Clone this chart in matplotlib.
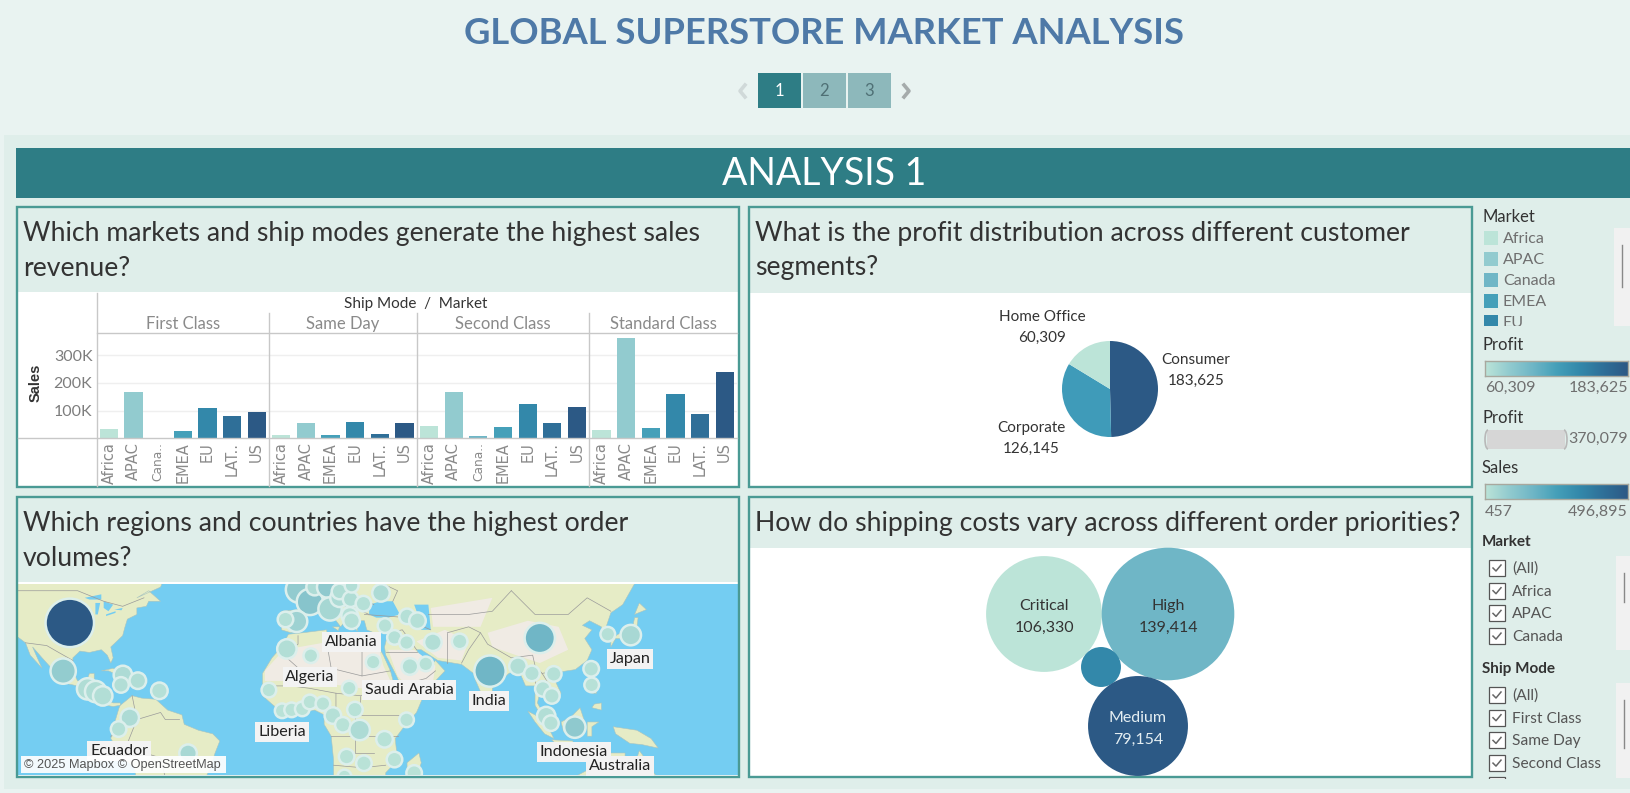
import numpy as np
import matplotlib
matplotlib.use("Agg")
import matplotlib.pyplot as plt
from matplotlib.colors import LinearSegmentedColormap
from matplotlib.patches import Rectangle, Polygon, Arc

plt.rcParams['font.family'] = ['Lato', 'DejaVu Sans']

W, H = 1630, 793

# bar chart data
ship_modes = ["First Class", "Same Day", "Second Class", "Standard Class"]
bar_markets = [
    ["Africa", "APAC", "Canada", "EMEA", "EU", "LATAM", "US"],
    ["Africa", "APAC", "EMEA", "EU", "LATAM", "US"],
    ["Africa", "APAC", "Canada", "EMEA", "EU", "LATAM", "US"],
    ["Africa", "APAC", "EMEA", "EU", "LATAM", "US"],
]
bar_labels = [
    ["Africa", "APAC", "Cana..", "EMEA", "EU", "LAT..", "US"],
    ["Africa", "APAC", "EMEA", "EU", "LAT..", "US"],
    ["Africa", "APAC", "Cana..", "EMEA", "EU", "LAT..", "US"],
    ["Africa", "APAC", "EMEA", "EU", "LAT..", "US"],
]
first_class = [34000, 167000, 1000, 26000, 110000, 81000, 95000]
same_day = [12000, 55000, 12000, 59000, 16000, 55000]
second_class = [45000, 167000, 8000, 41000, 124000, 55000, 113000]
standard_class = [30000, 362000, 37000, 160000, 88000, 240000]
bar_sales = [first_class, same_day, second_class, standard_class]

market_colors = {"Africa": "#bce4d8", "APAC": "#92cbcf", "Canada": "#6fb6c6", "EMEA": "#45a0b9",
                 "EU": "#3388aa", "LATAM": "#2f6f98", "US": "#2c5985"}

# pie data
segments = ["Consumer", "Corporate", "Home Office"]
segment_profit = [183625, 126145, 60309]
segment_colors = ["#2c5985", "#3f9bb9", "#bce4d8"]

# shipping cost bubbles
priorities = ["Critical", "High", "Low", "Medium"]
shipping_cost = [106330, 139414, 12660, 79154]
priority_colors = ["#bce4d8", "#6fb6c6", "#3388aa", "#2c5985"]

# map bubbles, lon / lat / orders / sales
map_lon = [-98.3, -101.1, -90.8, -87.4, -84.4, -75.9, -76.7, -69.6, -60.5, -73, -77.7, -48.4,
           -1.6, 3, 5, 10.5, 11.5, 15.5, 15.5, 20.2, 20.6, 33, 25.6, 19.8, 20.6, -2.6, -7.3,
           44, 48.4, 34.7, 38.7, 43.8, 54.9, 66.2, -6.7, 3.4, 29.7, 45.2, 51.9, -14.3, 19.6,
           -8.7, -4.7, -0.2, 3, 8.5, 12.7, 16.9, 22, 24, 43.8, 34.5, 18.5, 25.8, 38.7, 47, 17.6,
           79, 100, 90.8, 96.7, 105.9, 101.3, 105.1, 121.7, 121.9, 128.7, 138.4, 102.7, 104.7, 114.8, 134.2]
map_lat = [39.3, 21.9, 14.8, 13.7, 11.9, 20.4, 16.4, 18.1, 14, 2.8, -2, -12.1,
           49.3, 45.8, 50, 50, 43.7, 47, 48.8, 46.6, 50.4, 48.4, 45.3, 41.7, 40, 39.8, 40.4,
           41.4, 40, 38.4, 34.4, 32.6, 32.7, 33, 30.3, 27.8, 25.4, 23.7, 24.7, 14.3, 15.1,
           5.7, 6.1, 6.5, 9.4, 8.7, 3.7, -0.2, 6.2, -2.4, 1.9, -6.3, -13.5, -16.2, -14.7, -20.1, -21.5,
           21.9, 34.2, 23.8, 21, 20.8, 14.8, 11.9, 22.8, 16.4, 35.5, 35.2, 3.5, 0.5, -1.2, -22.8]
map_orders = [4990, 1300, 900, 900, 730, 650, 440, 510, 510, 650, 440, 580,
              1410, 1410, 510, 900, 1090, 650, 440, 440, 330, 580, 440, 510, 510, 900, 440,
              440, 510, 380, 380, 380, 580, 440, 730, 380, 380, 510, 380, 380, 380,
              380, 380, 380, 380, 380, 510, 440, 440, 820, 380, 510, 440, 440, 440, 440, 330,
              2030, 1900, 580, 440, 440, 440, 440, 440, 380, 380, 820, 650, 440, 900, 900]
map_sales = [496895, 80000, 25000, 25000, 20000, 30000, 20000, 25000, 15000, 30000, 15000, 40000,
             85000, 110000, 30000, 90000, 45000, 30000, 25000, 25000, 20000, 30000, 15000, 15000, 15000, 60000, 15000,
             15000, 15000, 12000, 15000, 12000, 20000, 12000, 20000, 12000, 12000, 15000, 12000, 10000, 10000,
             8000, 8000, 8000, 8000, 8000, 15000, 10000, 10000, 30000, 8000, 10000, 8000, 8000, 8000, 8000, 8000,
             165000, 165000, 20000, 15000, 15000, 15000, 15000, 15000, 12000, 15000, 40000, 20000, 15000, 90000, 60000]

map_labels = ["Albania", "Algeria", "Saudi Arabia", "India", "Japan", "Liberia", "Ecuador", "Indonesia", "Australia"]
map_label_x = [351.5, 310, 409, 489, 630, 282, 119, 574, 620]
map_label_y = [640, 675, 688, 699, 657, 730, 749, 750, 764]

# right hand legends
legend_markets = ["Africa", "APAC", "Canada", "EMEA", "EU"]
filter_markets = ["(All)", "Africa", "APAC", "Canada"]
filter_modes = ["(All)", "First Class", "Same Day", "Second Class"]

# rough outlines for the basemap
land = [
    [(-130, 56), (-125, 48), (-124, 42), (-121, 35), (-117, 32.5), (-115, 28), (-110, 23), (-112, 27), (-114, 31), (-110, 27),
     (-106, 23), (-105, 20), (-100, 17), (-95, 16), (-92, 14.5), (-88, 13), (-85, 11), (-83, 8), (-80, 7.5), (-77, 8), (-77, 9),
     (-80, 9), (-83, 10), (-84, 15), (-88, 16), (-88, 21), (-90, 21), (-91, 18.5), (-95, 18), (-97, 22), (-97, 27), (-94, 29.5),
     (-90, 29), (-85, 30), (-82.5, 28), (-81, 25), (-80, 27), (-81, 31), (-76, 35), (-75, 38), (-74, 40.5), (-70, 42), (-70, 44),
     (-66, 44.5), (-65, 46), (-60, 46), (-65, 49), (-70, 47), (-60, 50), (-58, 53), (-60, 56)],
    [(-85, 22), (-80, 23), (-75, 20.5), (-77, 20), (-82, 22)],
    [(-74, 19.7), (-69, 19.5), (-69, 18.3), (-74, 18.2)],
    [(-78, 18.4), (-76.3, 18.2), (-77, 17.8)],
    [(-77, 8), (-72, 12), (-68, 11), (-62, 10.5), (-57, 6), (-51, 4), (-50, 0), (-44, -2.5), (-38, -4), (-35, -7), (-37, -12),
     (-39, -18), (-41, -22), (-45, -24), (-70, -24), (-71, -18), (-76, -14), (-81, -6), (-80, -2), (-79, 2), (-77.5, 7)],
    [(-17, 15), (-17, 21), (-13, 27), (-10, 30), (-6, 35.5), (0, 36), (10, 37), (11, 33.5), (15, 32), (20, 31), (25, 32), (32, 31),
     (34, 28), (37, 22), (39, 15), (43, 12), (51, 12), (48, 5), (42, -2), (39, -6), (40, -15), (35, -20), (35, -25), (13, -25),
     (13, -15), (12, -5), (9, 0), (9, 4), (5, 6), (-4, 5), (-8, 4.5), (-13, 8.5), (-17, 12)],
    [(-9, 37), (-9, 43), (-2, 43.5), (-1, 46), (-5, 48.5), (2, 51), (8, 54), (9, 57), (12, 55), (20, 55), (25, 59), (30, 60), (60, 70),
     (180, 70), (180, 65), (163, 60), (156, 52), (155, 58), (140, 55), (141, 52), (135, 45), (130, 42.5), (128, 38), (129, 35),
     (126, 34.5), (126, 38), (121, 40), (118, 38.5), (122, 37), (119, 34), (122, 30), (120, 26), (115, 22.5), (108, 21.5), (106, 19),
     (109, 13), (105, 9), (100, 13), (99, 9), (103, 2), (101, 3), (98, 8), (98, 16), (94, 16), (91, 22.5), (87, 21), (80, 15), (80, 10),
     (77.5, 8), (73, 18), (72, 21), (67, 24.5), (57, 26), (50, 30), (48, 30), (51, 25), (54, 24), (56, 26), (60, 22), (55, 17), (45, 13),
     (43, 13), (39, 21), (35, 28), (34.5, 31), (36, 36), (30, 36), (27, 37), (26, 40), (23, 40), (23, 36.5), (20, 40), (19, 42), (14, 45),
     (12.5, 44), (18, 40), (16, 38), (12, 42), (8, 44), (3, 43), (0, 39), (-2, 37), (-5, 36)],
    [(-5, 50), (1, 51), (0, 54), (-3, 58), (-6, 57)],
    [(-10, 52), (-6, 52), (-6, 55), (-10, 54.5)],
    [(130, 31), (132, 34), (136, 34), (140, 35), (141, 38), (141.5, 41), (140, 41), (139, 37), (133, 35.5), (130, 33.5)],
    [(140, 42), (145, 43.5), (142, 45.5)],
    [(120, 23), (121, 25), (122, 25), (121, 22)],
    [(80, 7), (82, 7), (80.5, 9.5)],
    [(120, 18), (122, 18), (124, 13), (122, 13), (120, 15)],
    [(122, 7), (126, 6), (126, 9), (123, 8.5)],
    [(95, 5.5), (98, 4), (104, -2), (106, -6), (102, -4), (98, 1)],
    [(109, 1), (113, 3), (117, 7), (119, 1), (116, -4), (110, -3)],
    [(105, -6.5), (114, -7), (114, -8.5), (106, -7.5)],
    [(120, 1), (125, 1), (122, -1), (122, -5), (120, -5)],
    [(131, -1), (141, -2.5), (147, -6), (150, -10), (143, -8.5), (138, -8), (132, -4)],
    [(113, -26), (114, -22), (122, -18), (125, -14), (130, -12), (136, -12), (136, -15), (140, -17), (142, -11), (145, -15),
     (147, -19), (153, -25), (153, -30), (113, -30)],
    [(44, -16), (49, -12), (50, -16), (47, -25), (44, -25)],
    [(12.5, 38), (15.5, 38), (15, 36.7)],
]
lakes = [
    [(-92, 47), (-85, 48), (-85, 46.5), (-90, 46.5)],
    [(-87.5, 45.5), (-85.5, 45.5), (-86.5, 42), (-87.5, 42)],
    [(-84, 46), (-80, 45), (-82, 43), (-84, 44)],
    [(-83, 42), (-79, 43), (-79, 42.5), (-83, 41.5)],
    [(-79.5, 43.5), (-76, 44), (-76.5, 43.3)],
    [(47, 45), (53, 45), (54, 37), (50, 37), (49, 41)],
    [(28, 42), (28, 45), (33, 46), (38, 46), (41, 42), (36, 41), (31, 41)],
]
dry = [
    [(-8, 30), (12, 33), (32, 31), (34, 24), (37, 18), (25, 15), (10, 17), (-5, 18), (-16, 18), (-16, 22)],
    [(36, 30), (47, 30), (56, 24), (55, 18), (45, 15), (40, 20)],
    [(48, 33), (60, 37), (70, 33), (67, 26), (57, 27)],
    [(78, 36), (95, 40), (108, 38), (112, 30), (100, 25), (90, 28), (80, 31)],
    [(54, 44), (80, 47), (75, 38), (55, 38)],
]
borders = [
    [(-125, 49), (-95, 49), (-84, 46), (-76, 44.5), (-67, 47)],
    [(-117, 32.5), (-108, 31.5), (-104, 29.5), (-97, 26)],
    [(-92, 14.5), (-91, 18), (-88, 18)],
    [(-72, 12), (-70, 2), (-74, -8), (-70, -11), (-60, -14), (-58, -22)],
    [(-70, 2), (-60, 5), (-58, 2), (-52, 2)],
    [(-79, 1), (-75, -1), (-78, -4), (-81, -5)],
    [(-2, 35), (-2, 32), (-8, 28), (3, 19), (12, 23), (10, 33)],
    [(12, 23), (25, 20), (25, 31)], [(25, 20), (37, 22)],
    [(-17, 16), (-5, 16), (3, 15), (14, 13), (24, 12), (36, 12), (43, 12)],
    [(14, 13), (14, 5), (9, 4)], [(24, 12), (24, 4), (31, 4), (42, 4)],
    [(12, -5), (30, -5), (40, -5)], [(13, -17), (25, -18), (35, -17)], [(22, 4), (22, -12), (30, -12)],
    [(36, 36), (42, 37), (48, 30)], [(35, 29), (45, 29), (48, 29)], [(44, 17), (52, 19), (56, 22)],
    [(26, 42), (44, 41), (48, 39), (54, 37)], [(61, 36), (61, 25)], [(61, 36), (70, 38), (75, 36), (70, 30), (67, 25)],
    [(75, 36), (78, 32), (88, 27), (97, 28), (98, 24), (101, 21), (107, 22)],
    [(53, 42), (70, 42), (80, 43), (88, 49)], [(88, 49), (98, 42), (112, 42), (120, 47), (130, 43)],
    [(98, 24), (98, 16)], [(101, 21), (105, 15), (107, 11)],
    [(-1, 43), (3, 43)], [(2, 51), (8, 48), (8, 44)], [(8, 48), (17, 48), (22, 48), (30, 45)], [(14, 45), (22, 44), (28, 42)],
    [(14, 54), (15, 48)], [(24, 54), (22, 48)], [(30, 52), (40, 49), (38, 46)],
]

TEAL = "#2e7d85"
BORDER = "#4a9a94"
BAND = "#dfeeea"
TOP_BG = "#e9f3f1"
DARK = "#333333"
GREY = "#6f6f6f"

palette = [market_colors[m] for m in ["Africa", "APAC", "Canada", "EMEA", "EU", "LATAM", "US"]]
cmap = LinearSegmentedColormap.from_list("blue_teal", palette)


def px_axes(x0, y0, x1, y1, z=1):
    return fig.add_axes([x0 / W, 1 - y1 / H, (x1 - x0) / W, (y1 - y0) / H], zorder=z)


def merc(lat):
    return np.degrees(np.log(np.tan(np.pi / 4 + np.radians(np.asarray(lat, dtype=float)) / 2)))


fig = plt.figure(figsize=(W / 100, H / 100), dpi=100, facecolor=TOP_BG)

# page background, full figure in pixel coordinates
bg = px_axes(0, 0, W, H, 0)
bg.set_xlim(0, W)
bg.set_ylim(H, 0)
bg.axis("off")
bg.add_patch(Rectangle((4, 135), W - 4, 654, fc=BAND, ec="none"))
bg.add_patch(Rectangle((16, 148), W - 16, 50, fc=TEAL, ec="none"))

# overlay for text and frames
ov = px_axes(0, 0, W, H, 5)
ov.set_xlim(0, W)
ov.set_ylim(H, 0)
ov.axis("off")
ov.patch.set_alpha(0)


def T(x, y, s, **kw):
    # Lato sits a little high when centred
    kw.setdefault("va", "center")
    return ov.text(x, y + 2, s, **kw)


T(824, 32, "GLOBAL SUPERSTORE MARKET ANALYSIS", color="#4e79a7", fontsize=26.2, fontweight="bold", ha="center")
T(824, 172, "ANALYSIS 1", color="white", fontsize=27, ha="center")

# page buttons
for i, (x0, x1) in enumerate([(758, 801), (803, 846), (848, 891)]):
    active = i == 0
    ov.add_patch(Rectangle((x0, 73), x1 - x0, 35, fc=TEAL if active else "#8db8bb", ec="none"))
    T((x0 + x1) / 2, 89, str(i + 1), color="white" if active else "#4f7075", fontsize=12, ha="center")
ov.plot([745, 740, 745], [85, 91, 97], color="#d0d9d9", lw=2.6)
ov.plot([904, 909, 904], [85, 91, 97], color="#a5abab", lw=2.6)

# four panels
panels = [(17, 207, 739, 487, 292), (749, 207, 1472, 487, 293), (17, 497, 739, 777, 582), (749, 497, 1472, 777, 548)]
titles = [["Which markets and ship modes generate the highest sales", "revenue?"],
          ["What is the profit distribution across different customer", "segments?"],
          ["Which regions and countries have the highest order", "volumes?"],
          ["How do shipping costs vary across different order priorities?"]]
for (x0, y0, x1, y1, yb), lines in zip(panels, titles):
    bg.add_patch(Rectangle((x0, y0), x1 - x0, y1 - y0, fc="white", ec="none"))
    bg.add_patch(Rectangle((x0, y0), x1 - x0, yb - y0, fc=BAND, ec="none"))
    ov.add_patch(Rectangle((x0, y0), x1 - x0, y1 - y0, fc="none", ec=BORDER, lw=1.7))
    for k, line in enumerate(lines):
        T(x0 + 6, y0 + 24 + k * 35, line, color=DARK, fontsize=19.2)

# bars
bar_left, bar_right, bar_top, bar_base = 96.6, 737, 333, 438.3
ax = px_axes(bar_left, bar_top, bar_right, bar_base, 2)
n_slots = sum(len(s) for s in bar_sales)
pos = 0
ticks, tick_text, cuts = [], [], []
for sales, names, labels in zip(bar_sales, bar_markets, bar_labels):
    xs = np.arange(pos, pos + len(sales)) + 0.5
    ax.bar(xs, sales, width=0.74, color=[market_colors[m] for m in names], zorder=3)
    ticks.extend(xs)
    tick_text.extend(labels)
    pos += len(sales)
    cuts.append(pos)
ax.set_xlim(0, n_slots)
ax.set_ylim(0, 379500)
ax.set_yticks([100000, 200000, 300000])
ax.set_yticklabels(["100K", "200K", "300K"], color="#7d7d7d", fontsize=11.5)
ax.set_xticks(ticks)
ax.set_xticklabels(tick_text, rotation=90, fontsize=10.5, color="#8a8a8a", family="DejaVu Sans")
for lab in ax.get_xticklabels():
    if lab.get_text() == "Cana..":
        lab.set_fontsize(8.8)
ax.tick_params(length=0, pad=3)
ax.grid(axis="y", color="#efefef", lw=1, zorder=0)
for s in ax.spines.values():
    s.set_visible(False)
ax.patch.set_alpha(0)

# header of the bar chart
slot_px = (bar_right - bar_left) / n_slots
ov.plot([bar_left, bar_left], [293, 486], color="#c8c8c8", lw=1)
for c in cuts[:-1]:
    xc = bar_left + c * slot_px
    ov.plot([xc, xc], [313, 486], color="#c8c8c8", lw=1)
ov.plot([bar_left, bar_right], [333, 333], color="#c8c8c8", lw=1)
ov.plot([18, bar_right], [bar_base, bar_base], color="#c8c8c8", lw=1)
T(416, 302, "Ship Mode  /  Market", color=DARK, fontsize=11, ha="center")
prev = 0
for mode, c in zip(ship_modes, cuts):
    T(bar_left + (prev + c) / 2 * slot_px, 322, mode, color="#8a8a8a", fontsize=12, ha="center")
    prev = c
ov.text(36, 383, "Sales", color=DARK, fontsize=10.5, rotation=90, ha="center", va="center", fontweight="bold", family="Liberation Sans")

# pie
pie_ax = px_axes(1062, 341, 1158, 437, 2)
pie_ax.pie(segment_profit, colors=segment_colors, startangle=90, counterclock=False, radius=1)
pie_ax.set_xlim(-1, 1)
pie_ax.set_ylim(-1, 1)
pie_text = {"Home Office": (1042, 315), "Consumer": (1196, 358), "Corporate": (1031, 426)}
for seg, val in zip(segments, segment_profit):
    tx, ty = pie_text[seg]
    T(tx, ty, seg, color=DARK, fontsize=11, ha="center")
    T(tx, ty + 21, f"{val:,}", color=DARK, fontsize=11, ha="center")

# bubbles
bubble_x = [1044, 1168, 1101, 1138]
bubble_y = [614, 614, 667, 726]
ov.scatter(bubble_x, bubble_y, s=np.array(shipping_cost) * 0.0654, c=priority_colors, linewidths=0, zorder=2)
for p, v, x, y in zip(priorities, shipping_cost, bubble_x, bubble_y):
    if p == "Low":
        continue
    col = "#e4eef2" if p == "Medium" else DARK
    T(x, y - 10, p, color=col, fontsize=11.5, ha="center", zorder=3)
    T(x, y + 11.5, f"{v:,}", color=col, fontsize=11.5, ha="center", zorder=3)

# map
map_ax = px_axes(18, 584, 738, 775, 2)
map_ax.set_facecolor("#74cdf2")
map_ax.set_xlim(79 + (18 - 490) / 2.37, 79 + (738 - 490) / 2.37)
map_ax.set_ylim(22.5 - (775 - 671) / 2.37, 22.5 + (671 - 584) / 2.37)
map_ax.set_xticks([])
map_ax.set_yticks([])
for s in map_ax.spines.values():
    s.set_visible(False)
for poly in land:
    p = np.array(poly, dtype=float)
    map_ax.add_patch(Polygon(np.c_[p[:, 0], merc(p[:, 1])], fc="#e6ecc6", ec="#a9c4bf", lw=0.4, zorder=1))
for poly in dry:
    p = np.array(poly, dtype=float)
    map_ax.add_patch(Polygon(np.c_[p[:, 0], merc(p[:, 1])], fc="#f0ebe4", ec="none", zorder=2))
for poly in lakes:
    p = np.array(poly, dtype=float)
    map_ax.add_patch(Polygon(np.c_[p[:, 0], merc(p[:, 1])], fc="#74cdf2", ec="none", zorder=3))
for line in borders:
    p = np.array(line, dtype=float)
    map_ax.plot(p[:, 0], merc(p[:, 1]), color="#9a9a9a", lw=0.5, zorder=4)
map_ax.scatter(map_lon, merc(map_lat), s=np.array(map_orders) * 0.24 + 20, c=map_sales, cmap=cmap, vmin=457, vmax=496895,
               edgecolors="#dcefec", linewidths=1.8, zorder=5)

for name, x, y in zip(map_labels, map_label_x, map_label_y):
    T(x, y, name, color="#222222", fontsize=11.6, ha="center", bbox=dict(fc="#f3f3f3", ec="none", pad=2))
ov.add_patch(Rectangle((21, 756), 205, 17, fc="white", ec="none", alpha=0.92, zorder=6))
ov.text(24, 765, "© 2025 Mapbox © OpenStreetMap", color="#555555", fontsize=9.2, family="Liberation Sans", va="center", zorder=7)

# legend column
LX = 1482
T(LX, 215, "Market", color=DARK, fontsize=12)
bg.add_patch(Rectangle((1614, 228), 16, 98, fc="#f1f1f1", ec="none"))
bg.plot([1622, 1622], [245, 287], color="#888888", lw=1)
for i, m in enumerate(legend_markets):
    y = 238 + i * 21
    ov.add_patch(Rectangle((1484, y - 7), 14, 14, fc=market_colors[m], ec="none"))
    T(1503, y - 1, m, color=GREY, fontsize=11.5)
ov.add_patch(Rectangle((1480, 326), 134, 10, fc=BAND, ec="none", zorder=4))


def gradient_bar(y0, y1):
    b = px_axes(1485, y0, 1628, y1, 3)
    b.imshow(np.linspace(0, 1, 256)[None, :], aspect="auto", cmap=cmap)
    b.set_xticks([])
    b.set_yticks([])
    for s in b.spines.values():
        s.set_color("#a8a89e")
        s.set_linewidth(1)


T(LX, 343, "Profit", color=DARK, fontsize=12, zorder=5)
gradient_bar(361, 376)
T(1485, 386, "60,309", color=GREY, fontsize=11.5)
T(1628, 386, "183,625", color=GREY, fontsize=11.5, ha="right")

T(LX, 416, "Profit", color=DARK, fontsize=12)
ov.add_patch(Rectangle((1487, 430), 78, 19, fc="#d6d6d6", ec="none"))
ov.add_patch(Arc((1488, 439.5), 6, 19, theta1=90, theta2=270, ec="#b8b8b8", lw=1.2))
ov.add_patch(Arc((1564, 439.5), 6, 19, theta1=-90, theta2=90, ec="#b8b8b8", lw=1.2))
T(1628, 437, "370,079", color=GREY, fontsize=11.5, ha="right")

T(LX, 466, "Sales", color=DARK, fontsize=12)
gradient_bar(484, 499)
T(1485, 510, "457", color=GREY, fontsize=11.5)
T(1628, 510, "496,895", color=GREY, fontsize=11.5, ha="right")


def check_list(title, title_y, items, top, box_bottom, thumb):
    T(LX, title_y, title, color=DARK, fontsize=11, fontweight="bold")
    bg.add_patch(Rectangle((1616, top - 12), 14, box_bottom - top + 12, fc="#f1f1f1", ec="none"))
    bg.plot([1624, 1624], thumb, color="#888888", lw=1)
    for i, item in enumerate(items):
        y = top + i * 22.7
        ov.add_patch(Rectangle((1489, y - 8), 16, 16, fc="white", ec="#555555", lw=0.9))
        ov.plot([1493, 1496, 1501], [y, y + 3, y - 3], color="#666666", lw=1.1)
        T(1512, y - 1, item, color="#555555", fontsize=11.2)


check_list("Market", 540, filter_markets, 568, 650, [573, 602])
check_list("Ship Mode", 667, filter_modes, 695, 778, [700, 748])
ov.add_patch(Rectangle((1489, 777), 16, 8, fc="white", ec="#555555", lw=0.9, zorder=1))
ov.add_patch(Rectangle((1480, 778.5), 134, 10, fc=BAND, ec="none", zorder=2))

fig.savefig("out.png", dpi=100)
